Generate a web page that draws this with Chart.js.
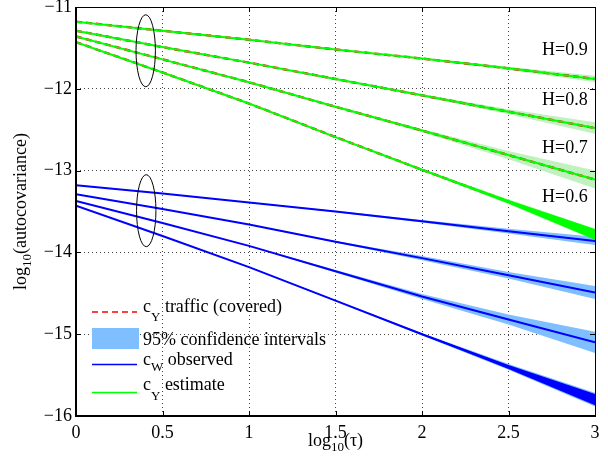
<!DOCTYPE html>
<html>
<head>
<meta charset="utf-8">
<script src="https://cdn.jsdelivr.net/npm/chart.js@4.4.1/dist/chart.umd.min.js"></script>
<style>
  html, body { margin: 0; padding: 0; background: #fff; }
</style>
</head>
<body>
<canvas id="acfChart" width="608" height="462"></canvas>
<script>
// log10(tau) sample points
const tau = [0, 0.5, 1, 1.5, 2, 2.5, 3];

// c_Y estimate (and the covered traffic curve), one per Hurst value
const estH09 = [-11.18, -11.29, -11.40, -11.52, -11.63, -11.75, -11.88];
const estH08 = [-11.29, -11.49, -11.68, -11.88, -12.08, -12.28, -12.48];
const estH07 = [-11.36, -11.64, -11.92, -12.22, -12.51, -12.81, -13.11];
const estH06 = [-11.43, -11.80, -12.18, -12.59, -12.99, -13.38, -13.78];

// c_W observed
const obsH09 = [-13.18, -13.28, -13.39, -13.50, -13.62, -13.74, -13.86];
const obsH08 = [-13.29, -13.47, -13.66, -13.87, -14.07, -14.28, -14.49];
const obsH07 = [-13.37, -13.64, -13.92, -14.23, -14.54, -14.82, -15.10];
const obsH06 = [-13.43, -13.80, -14.18, -14.59, -15.00, -15.40, -15.80];

// half widths of the 95% confidence intervals
const ciH09 = [0, 0, 0.002, 0.005, 0.010, 0.020, 0.040];
const ciH08 = [0, 0, 0.003, 0.008, 0.015, 0.030, 0.070];
const ciH07 = [0, 0, 0.004, 0.010, 0.020, 0.050, 0.110];
const ciH06 = [0, 0, 0.003, 0.006, 0.012, 0.030, 0.070];
const ciObsH09 = [0, 0, 0.003, 0.008, 0.015, 0.030, 0.050];
const ciObsH08 = [0, 0, 0.004, 0.010, 0.025, 0.040, 0.080];
const ciObsH07 = [0, 0, 0.005, 0.015, 0.030, 0.060, 0.130];
const ciObsH06 = [0, 0, 0.004, 0.008, 0.015, 0.035, 0.085];

// spread of the noisy tail of the H=0.6 curves
const noiseEst06 = [0, 0, 0, 0.002, 0.008, 0.022, 0.065];
const noiseObs06 = [0, 0, 0, 0.002, 0.008, 0.025, 0.070];

const hLabels = ["H=0.9", "H=0.8", "H=0.7", "H=0.6"];
const hLabelY = [-11.59, -12.20, -12.785, -13.385];
const yTicks = [-16, -15, -14, -13, -12, -11];
const xTicks = [0, 0.5, 1, 1.5, 2, 2.5, 3];

const GREEN = "rgb(0,255,0)";
const GREEN_CI = "#bff2bf";
const BLUE = "rgb(0,0,255)";
const BLUE_CI = "#80bfff";
const FONT = "Liberation Serif";

function pts(vals) {
  return tau.map((t, i) => ({ x: t, y: vals[i] }));
}
function offset(vals, half, sign) {
  return vals.map((v, i) => v + sign * half[i]);
}

const datasets = [];

function addBand(centre, half, color, order) {
  datasets.push({
    data: pts(offset(centre, half, 1)),
    borderWidth: 0,
    pointRadius: 0,
    fill: false,
    order: order,
  });
  datasets.push({
    data: pts(offset(centre, half, -1)),
    borderWidth: 0,
    pointRadius: 0,
    backgroundColor: color,
    fill: "-1",
    order: order,
  });
}

function addLine(vals, color, width, dash, order) {
  datasets.push({
    data: pts(vals),
    borderColor: color,
    borderWidth: width,
    borderDash: dash,
    pointRadius: 0,
    fill: false,
    order: order,
  });
}

const estimates = [estH09, estH08, estH07, estH06];
const observed = [obsH09, obsH08, obsH07, obsH06];
const ciEst = [ciH09, ciH08, ciH07, ciH06];
const ciObs = [ciObsH09, ciObsH08, ciObsH07, ciObsH06];

for (let i = 0; i < 4; i++) {
  addBand(observed[i], ciObs[i], BLUE_CI, 6);
  addBand(estimates[i], ciEst[i], GREEN_CI, 6);
}
addBand(obsH06, noiseObs06, BLUE, 1);
addBand(estH06, noiseEst06, GREEN, 1);
for (let i = 0; i < 4; i++) {
  addLine(observed[i], BLUE, 2, [], 2);
  addLine(estimates[i], "rgb(255,0,0)", 2.4, [6, 4], 4);
  addLine(estimates[i], GREEN, 2, [], 2);
}

// draws text like c_Y with a lowered subscript
function subText(ctx, x, y, main, sub, rest, drop) {
  ctx.font = "18px " + FONT;
  ctx.fillText(main, x, y);
  x += ctx.measureText(main).width;
  ctx.font = "13px " + FONT;
  ctx.fillText(sub, x, y + drop);
  x += ctx.measureText(sub).width;
  ctx.font = "18px " + FONT;
  ctx.fillText(rest, x, y);
  return x + ctx.measureText(rest).width;
}

function subWidth(ctx, main, sub, rest) {
  ctx.font = "18px " + FONT;
  let w = ctx.measureText(main).width + ctx.measureText(rest).width;
  ctx.font = "13px " + FONT;
  return w + ctx.measureText(sub).width;
}

const decorations = {
  id: "decorations",
  afterDraw(chart) {
    const ctx = chart.ctx;
    const ca = chart.chartArea;
    const xs = chart.scales.x;
    const ys = chart.scales.y;
    ctx.save();

    // ellipses marking the first lags
    ctx.strokeStyle = "#000";
    ctx.lineWidth = 1;
    [[0.403, -11.535], [0.406, -13.49]].forEach(([ex, ey]) => {
      const cx = xs.getPixelForValue(ex);
      const cy = ys.getPixelForValue(ey);
      const rx = xs.getPixelForValue(ex + 0.056) - cx;
      const ry = ys.getPixelForValue(ey) - ys.getPixelForValue(ey + 0.44);
      ctx.beginPath();
      ctx.ellipse(cx, cy, rx, ry, 0, 0, Math.PI * 2);
      ctx.stroke();
    });

    // Hurst labels
    ctx.fillStyle = "#000";
    ctx.font = "18px " + FONT;
    ctx.textBaseline = "alphabetic";
    ctx.textAlign = "left";
    hLabels.forEach((t, i) => {
      ctx.fillText(t, xs.getPixelForValue(2.694), ys.getPixelForValue(hLabelY[i]));
    });

    // box and inward ticks
    ctx.strokeStyle = "#000";
    ctx.lineWidth = 1;
    ctx.strokeRect(ca.left + 0.5, ca.top + 0.5, ca.right - ca.left, ca.bottom - ca.top);
    ctx.lineWidth = 2;
    ctx.beginPath();
    ctx.moveTo(ca.left, ca.top);
    ctx.lineTo(ca.left, ca.bottom);
    ctx.lineTo(ca.right, ca.bottom);
    ctx.stroke();
    ctx.lineWidth = 1;
    ctx.beginPath();
    xTicks.forEach((v) => {
      const px = Math.round(xs.getPixelForValue(v)) + 0.5;
      ctx.moveTo(px, ca.bottom);
      ctx.lineTo(px, ca.bottom - 5);
      ctx.moveTo(px, ca.top);
      ctx.lineTo(px, ca.top + 5);
    });
    yTicks.forEach((v) => {
      const py = Math.round(ys.getPixelForValue(v)) + 0.5;
      ctx.moveTo(ca.left, py);
      ctx.lineTo(ca.left + 5, py);
      ctx.moveTo(ca.right, py);
      ctx.lineTo(ca.right - 5, py);
    });
    ctx.stroke();

    // legend
    const lx = ca.left + 16;
    const tx = ca.left + 67;
    ctx.lineWidth = 1.5;
    ctx.strokeStyle = "rgb(255,0,0)";
    ctx.setLineDash([6, 4]);
    ctx.beginPath();
    ctx.moveTo(lx, 312);
    ctx.lineTo(lx + 45, 312);
    ctx.stroke();
    ctx.setLineDash([]);
    ctx.fillStyle = BLUE_CI;
    ctx.fillRect(lx, 328, 47, 21);
    ctx.strokeStyle = BLUE;
    ctx.beginPath();
    ctx.moveTo(lx, 364.5);
    ctx.lineTo(lx + 45, 364.5);
    ctx.stroke();
    ctx.strokeStyle = GREEN;
    ctx.beginPath();
    ctx.moveTo(lx, 392.5);
    ctx.lineTo(lx + 45, 392.5);
    ctx.stroke();

    ctx.fillStyle = "#000";
    subText(ctx, tx, 311.5, "c", "Y", " traffic (covered)", 9);
    ctx.font = "18px " + FONT;
    ctx.fillText("95% confidence intervals", tx, 345);
    subText(ctx, tx, 364.5, "c", "W", " observed", 6);
    subText(ctx, tx, 390, "c", "Y", " estimate", 10);

    // axis titles
    const midX = (ca.left + ca.right) / 2;
    const wx = subWidth(ctx, "log", "10", "(\u03c4)");
    subText(ctx, midX - wx / 2, 446, "log", "10", "(\u03c4)", 5);

    const midY = (ca.top + ca.bottom) / 2;
    const wy = subWidth(ctx, "log", "10", "(autocovariance)");
    ctx.translate(26, midY);
    ctx.rotate(-Math.PI / 2);
    subText(ctx, -wy / 2, 0, "log", "10", "(autocovariance)", 5);

    ctx.restore();
  },
};

const canvas = document.getElementById("acfChart");
const ctx = canvas.getContext("2d");

const acfChart = new Chart(ctx, {
  type: "line",
  data: { datasets: datasets },
  options: {
    responsive: false,
    animation: false,
    events: [],
    layout: { padding: { left: 0, right: 13, top: 7, bottom: 0 } },
    elements: { line: { tension: 0 } },
    plugins: {
      legend: { display: false },
      tooltip: { enabled: false },
    },
    scales: {
      x: {
        type: "linear",
        min: 0,
        max: 3,
        afterFit(scale) {
          scale.height = 46;
          scale.paddingLeft = 0;
          scale.paddingRight = 0;
        },
        afterBuildTicks(scale) { scale.ticks = xTicks.map((v) => ({ value: v })); },
        ticks: {
          color: "#000",
          padding: 6,
          maxRotation: 0,
          font: { family: FONT, size: 18 },
          callback: (v) => String(v),
        },
        grid: { color: "#444", lineWidth: 1, drawTicks: false },
        border: { display: false, dash: [1, 3] },
      },
      y: {
        type: "linear",
        min: -16,
        max: -11,
        afterFit(scale) {
          scale.width = 76;
          scale.paddingTop = 0;
          scale.paddingBottom = 0;
        },
        afterBuildTicks(scale) { scale.ticks = yTicks.map((v) => ({ value: v })); },
        ticks: {
          color: "#000",
          padding: 4,
          font: { family: FONT, size: 18 },
          callback: (v) => (v < 0 ? "\u2212" + Math.abs(v) : String(v)),
        },
        grid: { color: "#444", lineWidth: 1, drawTicks: false },
        border: { display: false, dash: [1, 3] },
      },
    },
  },
  plugins: [decorations],
});
</script>
</body>
</html>
